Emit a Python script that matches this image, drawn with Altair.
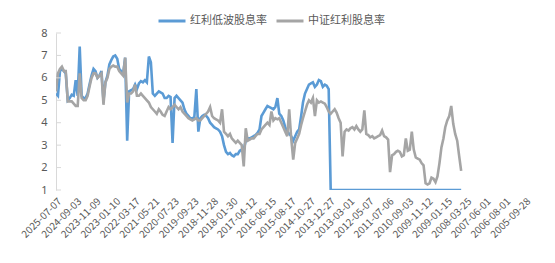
import altair as alt
import pandas as pd

SERIES = ["红利低波股息率", "中证红利股息率"]
COLORS = ["#5b9bd5", "#a5a5a5"]
TICK_LABELS = [
    "2025-07-07", "2024-09-03", "2023-11-09", "2023-01-10", "2022-03-17",
    "2021-05-21", "2020-07-23", "2019-09-23", "2018-11-28", "2018-01-30",
    "2017-04-12", "2016-06-15", "2015-08-17", "2014-10-27", "2013-12-27",
    "2013-03-01", "2012-05-07", "2011-07-06", "2010-09-03", "2009-11-12",
    "2009-01-15", "2008-03-25", "2007-06-01", "2006-08-01", "2005-09-28",
]
Y_TICKS = [1, 2, 3, 4, 5, 6, 7, 8]
START_DATE = "2025-07-07"   # newest sample, samples step back one month each

BLUE = [
    5.3, 5.2, 6.3, 6.4, 6.3, 6.2, 5.0, 5.1, 5.25, 5.2,
    5.9, 5.2, 7.4, 5.2, 5.1, 5.1, 5.3, 5.7, 6.1, 6.4,
    6.3, 6.0, 6.1, 6.3, 5.0, 5.8, 6.1, 6.6, 6.8, 6.95,
    7.0, 6.85, 6.4, 6.3, 6.2, 6.9, 3.2, 5.4, 5.45, 5.5,
    5.7, 5.5, 5.75, 5.85, 5.8, 5.9, 5.8, 6.95, 6.7, 5.3,
    5.2, 5.3, 5.4, 5.35, 5.3, 5.1, 5.1, 5.2, 5.15, 3.1,
    5.1, 5.2, 5.1, 5.0, 4.9, 4.6, 4.4, 4.3, 4.2, 4.2,
    4.25, 5.5, 3.6, 4.2, 4.3, 4.35, 4.3, 4.2, 4.0, 3.9,
    3.8, 3.75, 3.7, 3.6, 3.4, 3.0, 2.7, 2.6, 2.65, 2.55,
    2.5, 2.6, 2.6, 2.75, 2.8, 2.8, 3.2, 3.3, 3.3, 3.35,
    3.4, 3.45, 3.55, 3.7, 4.3, 4.45, 4.6, 4.75, 4.7, 4.65,
    4.6, 4.7, 5.1, 4.4, 4.3, 4.1, 3.8, 3.6, 3.5, 3.4,
    3.2, 3.4, 3.6, 3.7, 4.3, 4.9, 5.3, 5.5, 5.7, 5.75,
    5.8, 5.6, 5.7, 5.9, 5.85, 5.6, 5.7, 5.65, 5.5,
    # before the index base date the series sits on the axis floor
    1, 1, 1, 1, 1, 1, 1, 1, 1, 1, 1,
    1, 1, 1, 1, 1, 1, 1, 1, 1, 1,
    1, 1, 1, 1, 1, 1, 1, 1, 1, 1,
    1, 1, 1, 1, 1, 1, 1, 1, 1, 1,
    1, 1, 1, 1, 1, 1, 1, 1, 1, 1,
    1, 1, 1, 1, 1, 1, 1, 1, 1, 1,
    1, 1, 1, 1, 1, 1,
]

GRAY = [
    5.4, 6.2, 6.4, 6.5, 6.3, 6.3, 4.95, 4.95, 4.95, 4.85,
    4.75, 4.75, 6.2, 5.1, 5.0, 5.0, 5.2, 5.6, 6.0, 6.2,
    6.2, 6.0, 6.1, 6.2, 4.8, 5.8, 6.0, 6.4, 6.5, 6.55,
    6.5, 6.5, 6.3, 6.2, 6.1, 6.9, 4.9, 5.3, 5.3, 5.4,
    5.7, 5.2, 5.2, 5.3, 5.2, 5.1, 5.0, 4.9, 4.7, 4.6,
    4.5, 4.4, 4.6, 4.5, 4.35, 4.3, 4.5, 4.7, 4.6, 4.7,
    4.8, 4.7, 4.6, 4.7, 4.5, 4.4, 4.3, 4.2, 4.15, 4.1,
    4.15, 4.2, 4.1, 4.1, 4.2, 4.3, 4.4, 4.5, 4.7, 4.3,
    4.2, 4.15, 4.1, 4.0, 4.6, 3.6, 3.5, 3.4, 3.5, 3.3,
    3.2, 3.1, 3.2, 3.1, 3.0, 2.05, 3.75, 3.2, 3.25, 3.3,
    3.3, 3.4, 3.5, 3.5, 3.7, 3.8, 3.9, 4.0, 3.9, 4.5,
    4.1, 4.2, 4.15, 4.2, 4.0, 3.8, 3.6, 3.4, 4.6, 3.3,
    2.35, 3.1, 3.3, 3.5, 3.9, 4.2, 4.5, 4.8, 5.0, 4.9,
    5.1, 4.3, 5.0, 4.9, 4.95, 4.9, 4.85, 4.7, 4.5, 4.4,
    4.5, 4.6, 4.45, 4.2, 4.0, 2.5, 3.6, 3.7, 3.65, 3.75,
    3.8, 3.7, 3.85, 3.7, 3.6, 3.7, 4.55, 3.5, 3.45, 3.35,
    3.4, 3.3, 3.35, 3.4, 3.45, 3.65, 3.4, 3.35, 3.25, 1.8,
    2.55, 2.6, 2.7, 2.75, 2.7, 2.5, 2.55, 3.3, 2.75, 2.8,
    3.6, 2.8, 2.45, 2.4, 2.35, 2.2, 2.1, 1.3, 1.25, 1.3,
    1.55, 1.5, 1.35, 1.6, 2.2, 2.9, 3.3, 3.8, 4.1, 4.3,
    4.75, 3.95, 3.5, 3.2, 2.5, 1.85,
]

dates = [
    (pd.Timestamp(START_DATE) - pd.DateOffset(months=i)).strftime("%Y-%m-%d")
    for i in range(len(GRAY))
]

blue_df = pd.DataFrame({"date": dates[: len(BLUE)], "value": BLUE, "series": SERIES[0]})
gray_df = pd.DataFrame({"date": dates, "value": GRAY, "series": SERIES[1]})
tick_df = pd.DataFrame({"value": Y_TICKS})

FONT = "Noto Sans CJK SC"
LABEL_COLOR = "#595959"
AXIS_COLOR = "#d9d9d9"


def dt(s):
    y, m, d = (int(p) for p in s.split("-"))
    return alt.DateTime(year=y, month=m, date=d, utc=True)


x_enc = alt.X(
    "date:T",
    scale=alt.Scale(type="utc", domain=[dt(TICK_LABELS[-1]), dt(TICK_LABELS[0])], reverse=True),
    axis=alt.Axis(
        values=[dt(s) for s in TICK_LABELS],
        labelExpr="utcFormat(datum.value, '%Y-%m-%d')",
        title=None, grid=False, ticks=False, domain=False,
        labelAngle=315, labelFontSize=10, labelFont=FONT, labelColor=LABEL_COLOR,
        labelPadding=6, labelOverlap=False, labelFlush=False,
    ),
)
y_axis = alt.Axis(
    values=Y_TICKS, title=None, grid=False, ticks=False,
    domainColor=AXIS_COLOR, domainWidth=1,
    labelFontSize=11, labelFont="Noto Sans", labelColor=LABEL_COLOR, labelPadding=9,
    labelOverlap=False, labelFlush=False, labelBound=False,
)
y_scale = alt.Scale(domain=[1, 8], nice=False, zero=False)
y_enc = alt.Y("value:Q", scale=y_scale, axis=y_axis)
color_enc = alt.Color(
    "series:N",
    scale=alt.Scale(domain=SERIES, range=COLORS),
    legend=alt.Legend(
        title=None, orient="none", legendX=101, legendY=-27, direction="horizontal",
        symbolType="stroke", symbolSize=729, symbolStrokeWidth=3,
        labelFontSize=11, labelFont=FONT, labelColor=LABEL_COLOR,
        columnPadding=3, labelOffset=3,
    ),
)

blue = alt.Chart(blue_df).mark_line(strokeWidth=2.6, clip=True).encode(
    x=x_enc, y=y_enc, color=color_enc
)
gray = alt.Chart(gray_df).mark_line(strokeWidth=2.6, clip=True).encode(
    x=x_enc, y=y_enc, color=color_enc
)
ticks = alt.Chart(tick_df).mark_rule(color=AXIS_COLOR, strokeWidth=1).encode(
    y=alt.Y("value:Q", scale=y_scale, axis=y_axis), x=alt.value(0), x2=alt.value(5)
)

chart = (
    alt.layer(blue, gray, ticks)
    .properties(
        width=469, height=157,
        autosize=alt.AutoSizeParams(type="none"),
        padding={"left": 56, "top": 33, "right": 30, "bottom": 73},
    )
    .configure_view(stroke=None)
    .configure_axisY(labelOverlap=False)
)

chart.save("out.html", embed_options={"renderer": "svg", "actions": False})
